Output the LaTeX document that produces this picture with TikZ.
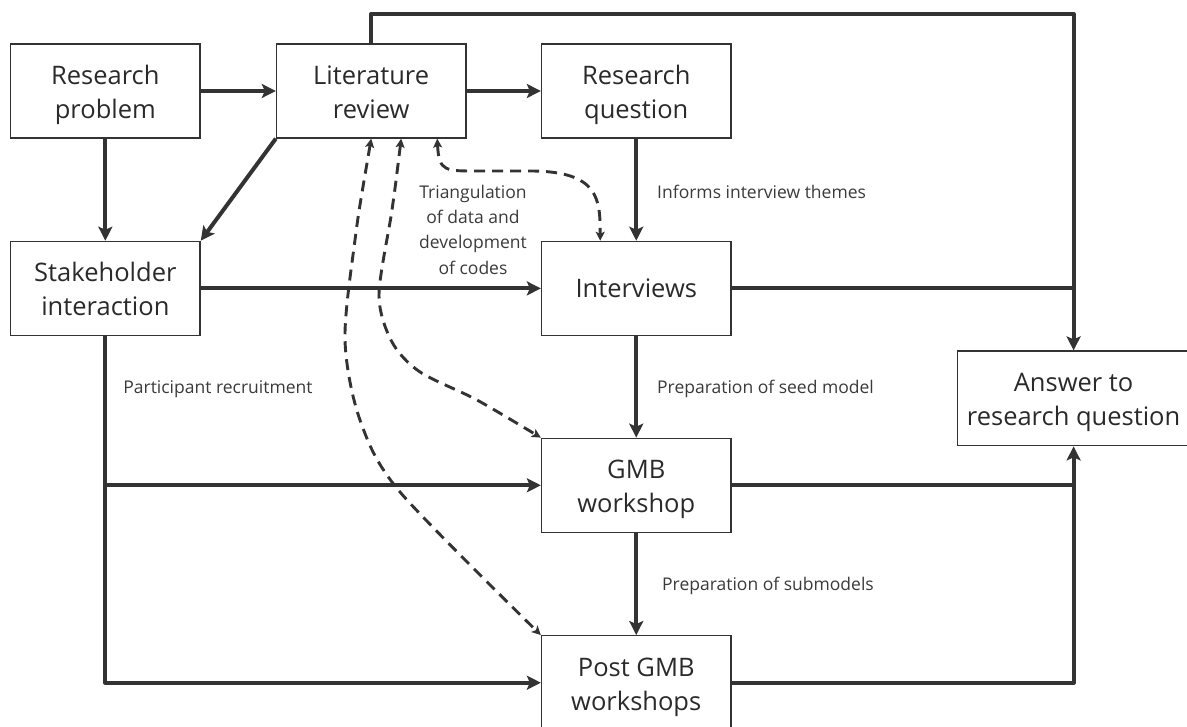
\documentclass[tikz,border=0pt]{standalone}
\usepackage{fontspec}
\setmainfont{Open Sans}
\usetikzlibrary{arrows.meta,calc}
\definecolor{ink}{HTML}{333333}
\definecolor{txt}{HTML}{2A2A2A}
\definecolor{lbltxt}{HTML}{3A3A3A}
\begin{document}
\begin{tikzpicture}[x=1pt,y=-1pt,
  box/.style={draw=ink, line width=1.3pt, minimum width=189.5pt, minimum height=94pt,
    align=center, inner sep=0pt, text=txt, font=\fontsize{25.5}{34}\selectfont},
  twoline/.style={text height=61pt, text depth=6pt},
  conn/.style={draw=ink, line width=4pt, line join=round},
  arr/.style={conn, -{Stealth[length=14pt,width=14pt,inset=3pt]}},
  dsh/.style={draw=ink, line width=2.9pt, dash pattern=on 11pt off 7pt,
    >={Stealth[length=9pt,width=9pt,inset=2pt]}, <->},
  lbl/.style={text=lbltxt, font=\fontsize{17.5}{25.3}\selectfont, inner sep=0pt, align=center}]
\useasboundingbox (0,0) rectangle (1187,727);

% boxes
\node[box, twoline] (rp)  at (105.35,91)   {Research\\problem};
\node[box, twoline] (lr)  at (371.2,91)    {Literature\\review};
\node[box, twoline] (rq)  at (636.25,91)   {Research\\question};
\node[box, twoline] (si)  at (105.35,288.4) {Stakeholder\\interaction};
\node[box] (iv)  at (636.25,288.4) {Interviews};
\node[box, twoline] (gmb) at (636.25,485.3) {GMB\\workshop};
\node[box, twoline] (pg)  at (636.25,682.7) {Post GMB\\workshops};
\node[box, twoline, minimum width=232pt, minimum height=94.7pt] (ans) at (1073.6,398.4) {Answer to\\research question};

% helper coordinates
\coordinate (top) at (0,14);
\coordinate (d1) at (lr.south);
\coordinate (d2) at ($(lr.south)+(30,0)$);
\coordinate (d3) at ($(lr.south)+(66,0)$);
\coordinate (e3) at ($(iv.north)+(-36,0)$);

% solid connectors
\draw[arr] (rp.east) -- (lr.west);
\draw[arr] (lr.east) -- (rq.west);
\draw[arr] (rp.south) -- (si.north);
\draw[arr] (lr.south west) -- (si.north east);
\draw[arr] (lr.north) |- (top -| ans.north) -- (ans.north);
\draw[arr] (rq.south) -- (iv.north);
\draw[arr] (si.east) -- (iv.west);
\draw[conn] (iv.east) -- (iv.east -| ans.north);
\draw[arr] (iv.south) -- (gmb.north);
\draw[arr] (gmb.south) -- (pg.north);
\draw[arr] (si.south) |- (pg.west);
\draw[arr] (si.south |- gmb.west) -- (gmb.west);
\draw[conn] (gmb.east) -- (gmb.east -| ans.south);
\draw[arr] (pg.east) -| (ans.south);

% dashed connectors
\draw[dsh] plot[smooth] coordinates {(d1) (355,240) (345,340) (360,420) (400,492) (pg.north west)};
\draw[dsh] plot[smooth] coordinates {(d2) (392,210) (379,295) (392,342) (420,372) (477,400) (gmb.north west)};
\draw[dsh] (d3) .. controls (439,172) and (445,171) .. (480,171) -- (530,171) .. controls (600,171) and (600,200) .. (e3);

% labels
\node[lbl] (tri) at (473,229.5) {Triangulation\\of data and\\development\\of codes};
\node[lbl, anchor=west] (inf)  at (657,192) {Informs interview themes};
\node[lbl, anchor=west] (seed) at (657,389) {Preparation of seed model};
\node[lbl, anchor=west] (prt)  at (123.2,389) {Participant recruitment};
\node[lbl, anchor=west] (sub)  at (662,585.5) {Preparation of submodels};
\end{tikzpicture}
\end{document}
